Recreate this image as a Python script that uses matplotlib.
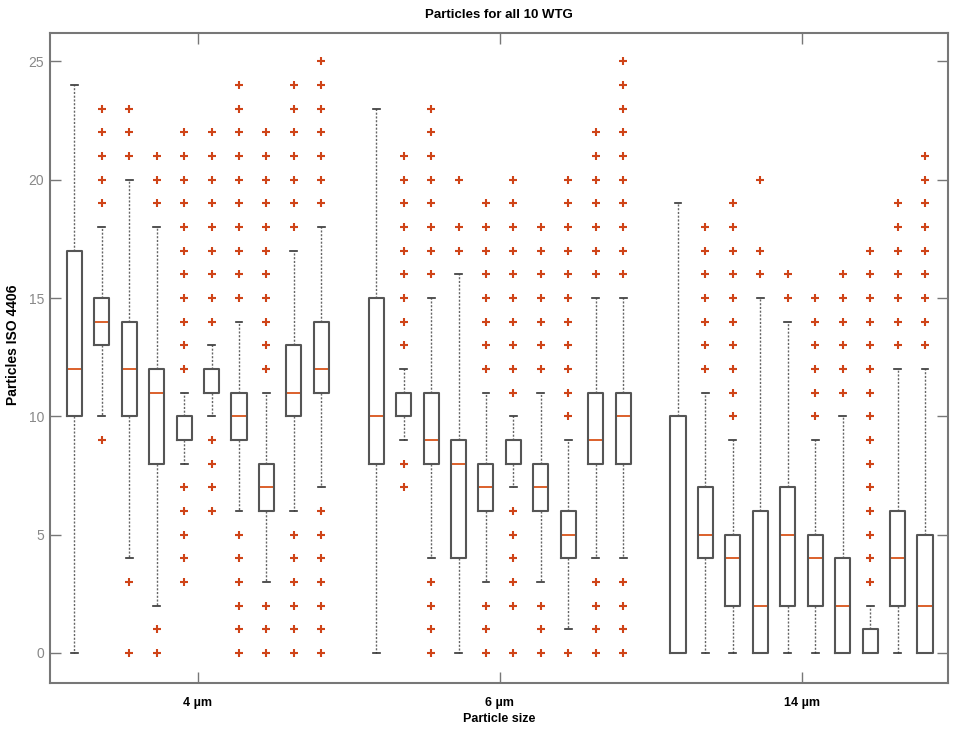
import matplotlib
matplotlib.use("Agg")
import matplotlib.pyplot as plt

# Daten - je Box: unterer Whisker, Q1, Median, Q3, oberer Whisker, Ausreisser
groups = ["4 µm", "6 µm", "14 µm"]

g1_lo = [0, 10, 4, 2, 8, 10, 6, 3, 6, 7]
g1_q1 = [10, 13, 10, 8, 9, 11, 9, 6, 10, 11]
g1_med = [12, 14, 12, 11, 9, 12, 10, 7, 11, 12]
g1_q3 = [17, 15, 14, 12, 10, 12, 11, 8, 13, 14]
g1_hi = [24, 18, 20, 18, 11, 13, 14, 11, 17, 18]
g1_fl = [
    [],
    [9, 19, 20, 21, 22, 23],
    [0, 3, 21, 22, 23],
    [0, 1, 19, 20, 21],
    [3, 4, 5, 6, 7, 12, 13, 14, 15, 16, 17, 18, 19, 20, 21, 22],
    [6, 7, 8, 9, 14, 15, 16, 17, 18, 19, 20, 21, 22],
    [0, 1, 2, 3, 4, 5, 15, 16, 17, 18, 19, 20, 21, 22, 23, 24],
    [0, 1, 2, 12, 13, 14, 15, 16, 17, 18, 19, 20, 21, 22],
    [0, 1, 2, 3, 4, 5, 18, 19, 20, 21, 22, 23, 24],
    [0, 1, 2, 3, 4, 5, 6, 19, 20, 21, 22, 23, 24, 25],
]

g2_lo = [0, 9, 4, 0, 3, 7, 3, 1, 4, 4]
g2_q1 = [8, 10, 8, 4, 6, 8, 6, 4, 8, 8]
g2_med = [10, 10, 9, 8, 7, 8, 7, 5, 9, 10]
g2_q3 = [15, 11, 11, 9, 8, 9, 8, 6, 11, 11]
g2_hi = [23, 12, 15, 16, 11, 10, 11, 9, 15, 15]
g2_fl = [
    [],
    [7, 8, 13, 14, 15, 16, 17, 18, 19, 20, 21],
    [0, 1, 2, 3, 16, 17, 18, 19, 20, 21, 22, 23],
    [17, 18, 20],
    [0, 1, 2, 12, 13, 14, 15, 16, 17, 18, 19],
    [0, 2, 3, 4, 5, 6, 11, 12, 13, 14, 15, 16, 17, 18, 19, 20],
    [0, 1, 2, 12, 13, 14, 15, 16, 17, 18],
    [0, 10, 11, 12, 13, 14, 15, 16, 17, 18, 19, 20],
    [0, 1, 2, 3, 16, 17, 18, 19, 20, 21, 22],
    [0, 1, 2, 3, 16, 17, 18, 19, 20, 21, 22, 23, 24, 25],
]

g3_lo = [0, 0, 0, 0, 0, 0, 0, 0, 0, 0]
g3_q1 = [0, 4, 2, 0, 2, 2, 0, 0, 2, 0]
g3_med = [0, 5, 4, 2, 5, 4, 2, 0, 4, 2]
g3_q3 = [10, 7, 5, 6, 7, 5, 4, 1, 6, 5]
g3_hi = [19, 11, 9, 15, 14, 9, 10, 2, 12, 12]
g3_fl = [
    [],
    [12, 13, 14, 15, 16, 17, 18],
    [10, 11, 12, 13, 14, 15, 16, 17, 18, 19],
    [16, 17, 20],
    [15, 16],
    [10, 11, 12, 13, 14, 15],
    [11, 12, 13, 14, 15, 16],
    [3, 4, 5, 6, 7, 8, 9, 10, 11, 12, 13, 14, 15, 16, 17],
    [13, 14, 15, 16, 17, 18, 19],
    [13, 14, 15, 16, 17, 18, 19, 20, 21],
]

all_lo = [g1_lo, g2_lo, g3_lo]
all_q1 = [g1_q1, g2_q1, g3_q1]
all_med = [g1_med, g2_med, g3_med]
all_q3 = [g1_q3, g2_q3, g3_q3]
all_hi = [g1_hi, g2_hi, g3_hi]
all_fl = [g1_fl, g2_fl, g3_fl]

# Statistiken fuer bxp aufbauen
stats = []
positions = []
centers = []
for g in range(3):
    pos_g = []
    for i in range(10):
        p = g * 11 + i + 1
        pos_g.append(p)
        stats.append({
            "whislo": all_lo[g][i], "q1": all_q1[g][i], "med": all_med[g][i],
            "q3": all_q3[g][i], "whishi": all_hi[g][i], "fliers": all_fl[g][i],
        })
    positions += pos_g
    centers.append(sum(pos_g) / len(pos_g))

plt.rcParams['font.family'] = ['Liberation Sans', 'DejaVu Sans']

fig = plt.figure(figsize=(9.55, 7.34), dpi=100)
ax = fig.add_axes([0.052, 0.0695, 0.941, 0.8855])

ax.bxp(stats, positions=positions, widths=0.55, capwidths=0.25,
       boxprops=dict(color="#555555", linewidth=1.5, zorder=3),
       whiskerprops=dict(color="#666666", linewidth=1.0, linestyle=(0, (1.5, 1.2))),
       capprops=dict(color="#333333", linewidth=1.2),
       medianprops=dict(color="#d9541a", linewidth=1.3, zorder=2.5),
       flierprops=dict(marker="+", markeredgecolor="#cf4418", markersize=6,
                       markeredgewidth=1.5, linestyle="none"))

ax.set_xlim(0.1, 32.85)
ax.set_ylim(-1.27, 26.2)
ax.set_yticks([0, 5, 10, 15, 20, 25])
ax.set_xticks(centers)
ax.set_xticklabels(groups, fontweight="bold", fontsize=9)

ax.tick_params(axis="both", direction="in", top=True, right=True, length=8,
               color="#777777", width=1.0)
ax.tick_params(axis="y", labelsize=10, labelcolor="#888888", pad=4)
ax.tick_params(axis="x", pad=10)
for s in ax.spines.values():
    s.set_color("#777777")
    s.set_linewidth(1.5)

ax.set_title("Particles for all 10 WTG", fontweight="bold", fontsize=9.5, pad=11)
ax.set_xlabel("Particle size", fontweight="bold", fontsize=9, labelpad=3)
ax.set_ylabel("Particles ISO 4406", fontweight="bold", fontsize=10)
ax.yaxis.set_label_coords(-0.033, 0.52)

fig.savefig("out.png", dpi=100)
